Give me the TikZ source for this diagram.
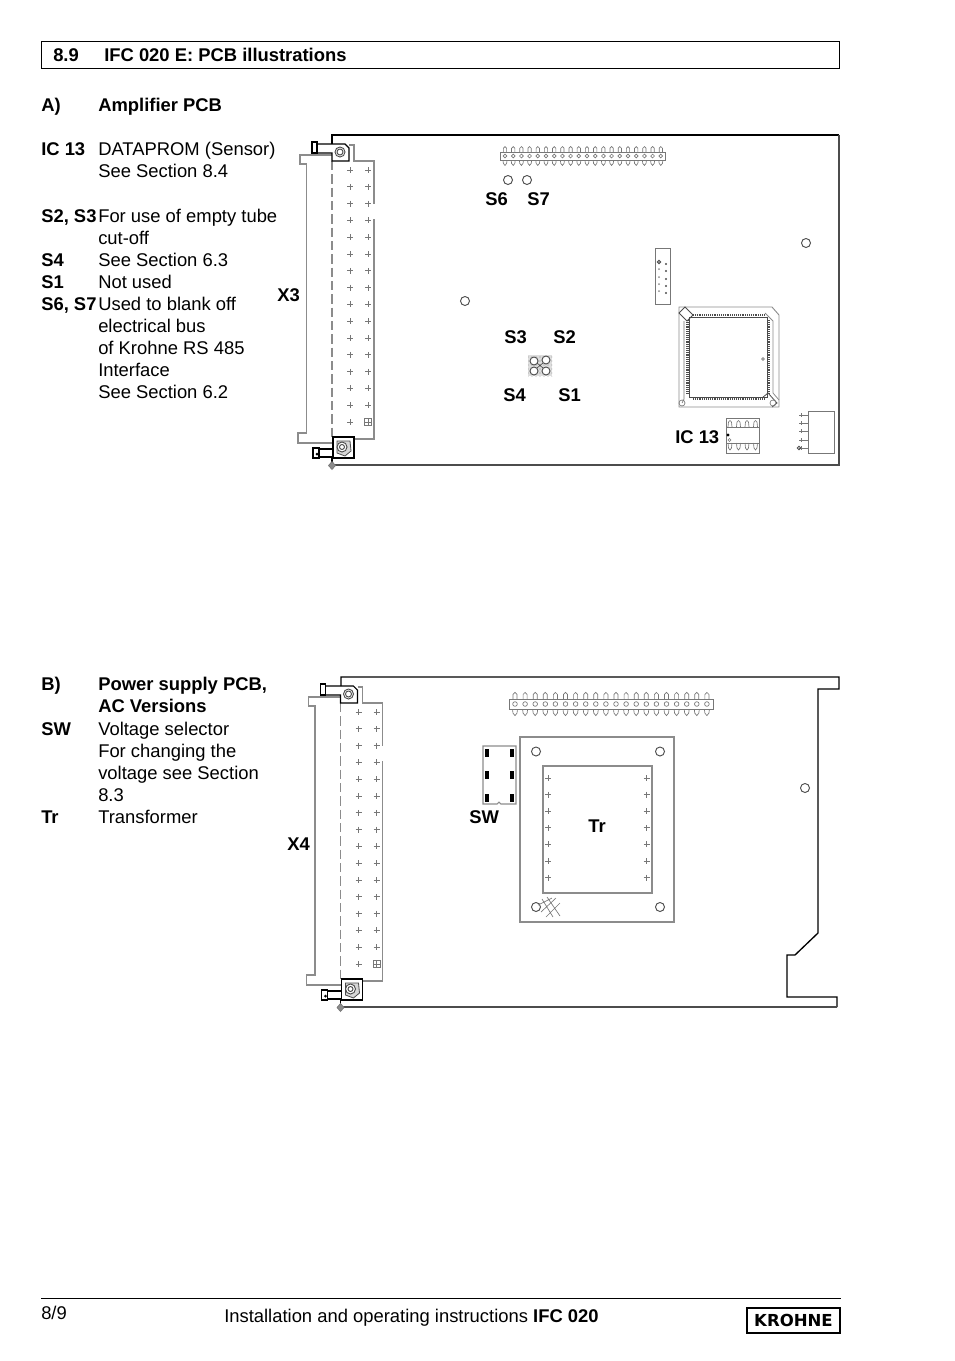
\documentclass[tikz,border=0pt]{standalone}
\usepackage{fontspec}
\setmainfont{Liberation Sans}
\newfontfamily\logofont{DejaVu Sans}
\usetikzlibrary{calc,patterns}

\definecolor{pcbgrey}{gray}{.55}
\definecolor{pcbdark}{gray}{.3}

\tikzset{
  txt/.style={anchor=base west,inner sep=0pt,font=\fontsize{13.8}{16}\selectfont},
  bld/.style={txt,font=\fontsize{13.8}{16}\selectfont\bfseries},
  edgeline/.style={pcbgrey,line width=1pt},
  pcbline/.style={black,line width=.8pt},
  thinline/.style={pcbgrey!85!black,line width=.5pt},
  hole/.style={pcbdark,line width=.7pt},
}

% Pair of crossing ticks
\newcommand{\plusmark}[2]{\draw[thinline] (#1-3,#2) -- (#1+3,#2) (#1,#2-3) -- (#1,#2+3);}

% Double row pin header, local coordinates
\newcommand{\pinheader}{
  \draw[thinline] (-5.5,-5) rectangle (196,5);
  \foreach \i in {0,...,19} {
    \draw[thinline] (\i*10,0) circle (2.3);
    \draw[thinline] (\i*10-2,-5) -- (\i*10-2,-9.5) -- (\i*10,-11.5) -- (\i*10+2,-9.5) -- (\i*10+2,-5);
    \draw[thinline] (\i*10-2.5,5) -- (\i*10-2,9) -- (\i*10,11.5) -- (\i*10+2,9) -- (\i*10+2.5,5);
  }
}

% Edge connector with both lugs, drawn at the position of board A
\newcommand{\edgeconnector}{
  \draw[edgeline] (332,155) -- (300,155) -- (300,164) -- (306.5,164) -- (306.5,433) -- (298,433) -- (298,443) -- (332,443);
  \draw[edgeline] (349,145) -- (354,145) -- (354,161) -- (374,161) -- (374,204);
  \draw[edgeline] (374,219) -- (374,439) -- (354,439);
  \draw[edgeline,dashed,dash pattern=on 7pt off 3pt] (332,161) -- (332,437);
  \foreach \r in {0,...,15} {
    \plusmark{350}{170+16.8*\r}
    \ifnum\r<15 \plusmark{368}{170+16.8*\r}\fi
  }
  \draw[thinline] (364.5,418.5) rectangle (371.5,425.5) (364.5,422) -- (371.5,422) (368,418.5) -- (368,425.5);
  % Upper lug
  \draw[pcbline] (312,142) rectangle (317,153);
  \draw[pcbline] (317,144) -- (345,144) -- (349,148) -- (349,161) -- (332,161) -- (332,153) -- (317,153);
  \draw[hole] (340,152) circle (5) circle (3);
  % Lower lug
  \draw[pcbline] (313,448) rectangle (319,458);
  \fill (317,454) circle (1.5);
  \draw[pcbline] (319,449) -- (333,449) (319,457) -- (333,457);
  \draw[pcbline] (333,437) rectangle (354,458);
  \draw[pcbdark,line width=.6pt,fill=pcbgrey!35] (337,441) -- (350,441) -- (351,451) -- (345,456) -- (337,453) -- cycle;
  \draw[hole,fill=white] (342,447) circle (5) circle (2.5);
  \draw[pcbline] (332,458) -- (332,464);
  \draw[thinline,fill=pcbgrey] (332,461.5) -- (335.5,465.5) -- (332,469.5) -- (328.5,465.5) -- cycle;
}

\begin{document}
\begin{tikzpicture}[x=.75pt,y=-.75pt]
\useasboundingbox (0,0) rectangle (954,1361);

% Heading
\draw[black,line width=.7pt] (41,41) rectangle (839,68);
\node (headno) at (53,61) [bld] {8.9};
\node (headtext) at (104,61) [bld] {IFC 020 E: PCB illustrations};

% Text of part A
\node (parta) at (41,111) [bld] {A)};
\node (partatitle) at (98,111) [bld] {Amplifier PCB};
\node (keyic) at (41,155) [bld] {IC 13};
\node (keyicone) at (98,155) [txt] {DATAPROM (Sensor)};
\node (keyictwo) at (98,177.5) [txt] {See Section 8.4};
\node (keysa) at (41,222) [bld] {S2, S3};
\node (keysaone) at (98,222) [txt] {For use of empty tube};
\node (keysatwo) at (98,244) [txt] {cut-off};
\node (keysb) at (41,266) [bld] {S4};
\node (keysbone) at (98,266) [txt] {See Section 6.3};
\node (keysc) at (41,288.5) [bld] {S1};
\node (keyscone) at (98,288.5) [txt] {Not used};
\node (keysd) at (41,310) [bld] {S6, S7};
\node (keysdone) at (98,310) [txt] {Used to blank off};
\node (keysdtwo) at (98,332) [txt] {electrical bus};
\node (keysdthree) at (98,354) [txt] {of Krohne RS 485};
\node (keysdfour) at (98,376) [txt] {Interface};
\node (keysdfive) at (98,398) [txt] {See Section 6.2};

% Board A
\draw[black,line width=1pt] (332,144) -- (332,135) -- (839,135);
\draw[pcbdark,line width=1pt] (839,135) -- (839,465) -- (332,465);
\edgeconnector
\begin{scope}[shift={(505,156)},scale=.82]
  \pinheader
\end{scope}
\draw[hole] (508,180) circle (4.5) (527,180) circle (4.5);
\draw[hole] (465,301) circle (4.5) (806,243) circle (4.5);

% Switches S1 to S4
\fill[pcbgrey!30] (528,355) rectangle (552,376);
\fill[pattern=dots,pattern color=pcbgrey] (528,355) rectangle (552,376);
\foreach \sx/\sy in {534/361,546/360,534/371,546/371} {
  \draw[hole,fill=white] (\sx,\sy) circle (4);
}
\draw[hole,line width=.5pt] (537,368) -- (543,363) (537,363) -- (543,368);

% Small connector
\draw[thinline,line width=.7pt] (655,248) rectangle (670,304);
\foreach \py in {262,269,277,284,291} {
  \fill[pcbgrey] (659,\py) circle (1);
  \fill[pcbdark] (666,\py+2) circle (1.1);
}
\draw[hole] (659,262) circle (1.8);

% Processor
\draw[edgeline,line width=.7pt] (679,307) -- (772,307) -- (779,315) -- (779,407) -- (679,407) -- cycle;
\draw[pcbdark,line width=.7pt] (689,317) rectangle (767,397);
\draw[pcbdark,line width=1.6pt,dash pattern=on .7pt off .7pt] (693,315) -- (765,315) (693,398.5) -- (765,398.5)
  (687.5,320) -- (687.5,394) (768.5,320) -- (768.5,394);
\draw[pcbdark,line width=.7pt] (679,313) -- (685,307) -- (693,315) -- (687,321) -- cycle;
\draw[pcbgrey,line width=.6pt] (765,313) -- (773,321) -- (773,393) -- (779,400);
\draw[pcbdark,line width=.6pt] (762,398) -- (768,393) -- (777,403) -- (772,407);
\draw[thinline] (682,403) circle (3) (773,403) circle (3) (763,359) circle (1.3);
\draw[thinline] (684,321) -- (684,399) -- (682,403);

% IC 13
\draw[thinline,line width=.7pt] (726,418) rectangle (759,453) (726,427) -- (759,427) (726,443) -- (759,443);
\foreach \ix in {730,738.5,747,755.5} {
  \draw[thinline] (\ix-2,427) -- (\ix-1.5,422) -- (\ix,420.5) -- (\ix+1.5,422) -- (\ix+2,427);
  \draw[thinline] (\ix-2,443) -- (\ix-1.5,448) -- (\ix,450) -- (\ix+1.5,448) -- (\ix+2,443);
}
\fill (728,435) circle (1.6);
\draw[thinline] (729.5,440) circle (1.5);

% Connector at the corner
\draw[thinline,line width=.7pt] (808,411) rectangle (834,453);
\foreach \cy in {415,423,431,440,448} {
  \draw[thinline] (799,\cy) -- (808,\cy) (801,\cy-2) -- (801,\cy+2);
}
\draw[hole] (799,448) circle (1.8);

% Labels of board A
\node (xthree) at (277,301) [bld] {X3};
\node (ssix) at (485,205) [bld] {S6};
\node (sseven) at (527,205) [bld] {S7};
\node (sthree) at (504,343) [bld] {S3};
\node (stwo) at (553,343) [bld] {S2};
\node (sfour) at (503,401) [bld] {S4};
\node (sone) at (558,401) [bld] {S1};
\node (icthirteen) at (675,443) [bld] {IC 13};

% Text of part B
\node (partb) at (41,690) [bld] {B)};
\node (partbtitle) at (98,690) [bld] {Power supply PCB,};
\node (partbtwo) at (98,712) [bld] {AC Versions};
\node (keysw) at (41,735) [bld] {SW};
\node (keyswone) at (98,735) [txt] {Voltage selector};
\node (keyswtwo) at (98,757) [txt] {For changing the};
\node (keyswthree) at (98,779) [txt] {voltage see Section};
\node (keyswfour) at (98,801) [txt] {8.3};
\node (keytr) at (41,823) [bld] {Tr};
\node (keytrone) at (98,823) [txt] {Transformer};

% Board B
\draw[black,line width=1pt] (341,686) -- (341,677) -- (839,677) -- (839,689) -- (818,689) -- (818,933) -- (795,955) -- (787,955)
  -- (787,997) -- (837,997) -- (837,1007);
\draw[pcbdark,line width=1pt] (837,1007) -- (341,1007);
\begin{scope}[shift={(8.5,542)}]
  \edgeconnector
\end{scope}
\begin{scope}[shift={(515,704)},scale=1.01]
  \pinheader
\end{scope}
\draw[hole] (805,788) circle (4.5);

% Voltage selector
\draw[edgeline,line width=.8pt] (483,746) -- (483,804) -- (497,804) -- (499,802) -- (501,804) -- (516,804) -- (516,746) -- cycle;
\foreach \wx in {487,512} {
  \foreach \wy in {753,775,798} {
    \fill (\wx-1.8,\wy-4) rectangle (\wx+1.8,\wy+4);
  }
}

% Transformer
\draw[edgeline,line width=.8pt] (520,737) rectangle (674,922);
\draw[edgeline,line width=.8pt] (543,766) rectangle (652,893);
\draw[hole] (536,751.5) circle (4.5) (660,751.5) circle (4.5) (660,907) circle (4.5) (536,907) circle (4.5);
\foreach \r in {0,...,6} {
  \plusmark{548}{778+16.6*\r}
  \plusmark{646.5}{778+16.6*\r}
}
\draw[thinline] (538,905) -- (552,898) (541,912) -- (556,898) (546,917) -- (560,903)
  (542,899) -- (553,917) (547,897) -- (560,916);

% Labels of board B
\node (xfour) at (287,850) [bld] {X4};
\node (swlabel) at (469,823) [bld] {SW};
\node (trlabel) at (588,832) [bld] {Tr};

% Footer
\draw[black,line width=.6pt] (41,1298) -- (841,1298);
\node (pageno) at (41,1319) [txt] {8/9};
\node (footer) at (224,1322) [txt] {Installation and operating instructions \textbf{IFC 020}};
\node (logo) at (793.5,1320.5) [draw,line width=.8pt,inner sep=0pt,minimum width=69.75pt,minimum height=18.75pt,font=\logofont\fontsize{12.4}{14}\selectfont\bfseries] {KROHNE};

\end{tikzpicture}
\end{document}
